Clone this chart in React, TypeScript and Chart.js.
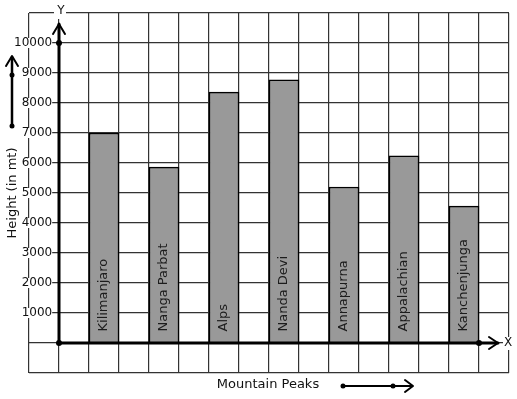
import React, { useEffect, useRef } from 'react';
import { Chart, registerables } from 'chart.js';

Chart.register(...registerables);

// ---- data ----
const peaks = ['Kilimanjaro', 'Nanga Parbat', 'Alps', 'Nanda Devi', 'Annapurna', 'Appalachian', 'Kanchenjunga'];
const heights = [7000, 5860, 8360, 8770, 5200, 6240, 4560];
const yTickLabels = [1000, 2000, 3000, 4000, 5000, 6000, 7000, 8000, 9000, 10000];
const yMin = -1000;
const yMax = 11000;
const yStep = 1000;
const xTitle = 'Mountain Peaks';
const yTitle = 'Height (in mt)';

// graph-paper slots: two empty cells, then each peak followed by an empty cell
const slotLabels: string[] = ['', '', ...peaks.flatMap((p) => [p, ''])];
const slotValues: (number | null)[] = [null, null, ...heights.flatMap((h) => [h, null])];

const FONT = 'DejaVu Sans';

function chevron(ctx: CanvasRenderingContext2D, pts: number[][]) {
  ctx.beginPath();
  ctx.moveTo(pts[0][0], pts[0][1]);
  for (let i = 1; i < pts.length; i++) ctx.lineTo(pts[i][0], pts[i][1]);
  ctx.stroke();
}
function dot(ctx: CanvasRenderingContext2D, x: number, y: number, r: number) {
  ctx.beginPath();
  ctx.arc(x, y, r, 0, Math.PI * 2);
  ctx.fill();
}

const decorPlugin = {
  id: 'decor',
  afterDraw(chart: any) {
    const ctx: CanvasRenderingContext2D = chart.ctx;
    const xs = chart.scales.x;
    const ys = chart.scales.y;
    const area = chart.chartArea;
    const y0 = ys.getPixelForValue(0);
    const x0 = xs.getPixelForValue(0.5);
    const yTop = ys.getPixelForValue(10000);
    const xDot = xs.getPixelForValue(slotLabels.length - 1.5);
    ctx.save();
    ctx.strokeStyle = '#000';
    ctx.fillStyle = '#000';
    ctx.lineCap = 'round';
    ctx.lineJoin = 'round';

    // bar labels
    const meta = chart.getDatasetMeta(0);
    ctx.font = `13px "${FONT}"`;
    ctx.fillStyle = '#1c1c1c';
    meta.data.forEach((bar: any, i: number) => {
      if (slotValues[i] == null) return;
      ctx.save();
      ctx.translate(bar.x, y0 - 11.5);
      ctx.rotate(-Math.PI / 2);
      ctx.textAlign = 'left';
      ctx.textBaseline = 'middle';
      ctx.fillText(slotLabels[i], 0, 0);
      ctx.restore();
    });
    ctx.fillStyle = '#000';

    // Y axis
    ctx.lineWidth = 3;
    ctx.beginPath();
    ctx.moveTo(x0, y0);
    ctx.lineTo(x0, area.top + 11);
    ctx.stroke();
    ctx.lineWidth = 2;
    chevron(ctx, [[x0 - 6, area.top + 21], [x0, area.top + 11], [x0 + 6, area.top + 21]]);
    dot(ctx, x0, yTop, 3);

    // X axis
    ctx.lineWidth = 3;
    ctx.beginPath();
    ctx.moveTo(x0, y0);
    ctx.lineTo(area.right - 11, y0);
    ctx.stroke();
    ctx.lineWidth = 2;
    chevron(ctx, [[area.right - 20, y0 - 6], [area.right - 11, y0], [area.right - 20, y0 + 6]]);
    dot(ctx, x0, y0, 3);
    dot(ctx, xDot, y0, 3);

    // axis letters with white backdrops
    ctx.font = `12px "${FONT}"`;
    ctx.textAlign = 'center';
    ctx.textBaseline = 'middle';
    ctx.fillStyle = '#fff';
    ctx.fillRect(x0 - 5, area.top - 7, 12, 13);
    ctx.fillRect(area.right - 6, y0 - 6, 12, 13);
    ctx.fillStyle = '#111';
    ctx.fillText('Y', x0 + 2, area.top - 2);
    ctx.fillText('X', area.right - 1, y0);

    // Y title + arrow
    ctx.font = `13px "${FONT}"`;
    ctx.save();
    ctx.translate(12.5, (area.top + area.bottom) / 2);
    ctx.rotate(-Math.PI / 2);
    ctx.fillText(yTitle, 0, 0);
    ctx.restore();
    ctx.fillStyle = '#000';
    ctx.lineWidth = 2.5;
    ctx.beginPath();
    ctx.moveTo(12, 126);
    ctx.lineTo(12, 57);
    ctx.stroke();
    ctx.lineWidth = 2;
    chevron(ctx, [[6, 66], [12, 56], [18, 66]]);
    dot(ctx, 12, 126, 2.5);
    dot(ctx, 12, 75, 2.5);

    // X title + arrow
    ctx.fillStyle = '#111';
    ctx.fillText(xTitle, (area.left + area.right) / 2 - 1, 385);
    ctx.fillStyle = '#000';
    ctx.lineWidth = 2;
    ctx.beginPath();
    ctx.moveTo(343, 386);
    ctx.lineTo(412, 386);
    ctx.stroke();
    chevron(ctx, [[405, 380], [413, 386], [405, 392]]);
    dot(ctx, 343, 386, 2.5);
    dot(ctx, 393, 386, 2.5);
    ctx.restore();
  },
};

export default function App() {
  const ref = useRef<HTMLCanvasElement | null>(null);
  useEffect(() => {
    if (!ref.current) return;
    Chart.defaults.font.family = FONT;
    const chart = new Chart(ref.current, {
      type: 'bar',
      data: {
        labels: slotLabels,
        datasets: [
          {
            data: slotValues as any,
            backgroundColor: '#999999',
            borderColor: '#000000',
            borderWidth: 1.5,
            borderSkipped: 'start',
            barPercentage: 1,
            categoryPercentage: 1,
          },
        ],
      },
      options: {
        responsive: false,
        animation: false,
        events: [],
        layout: { padding: { top: 13, right: 8, bottom: 26, left: 0 } },
        plugins: { legend: { display: false }, tooltip: { enabled: false }, title: { display: false } },
        scales: {
          x: {
            type: 'category',
            offset: true,
            grid: { offset: true, color: '#333', lineWidth: 1.2, drawTicks: false },
            border: { display: false },
            ticks: { display: false },
            afterFit: (s: any) => {
              s.height = 0;
            },
          },
          y: {
            type: 'linear',
            min: yMin,
            max: yMax,
            grid: { color: '#333', lineWidth: 1.2, drawTicks: false },
            border: { display: false },
            ticks: {
              stepSize: yStep,
              autoSkip: false,
              mirror: true,
              crossAlign: 'far',
              padding: -15,
              color: '#111',
              font: { family: FONT, size: 12, lineHeight: 1 },
              showLabelBackdrop: true,
              backdropColor: (c: any) =>
                c.tick && yTickLabels.includes(c.tick.value) ? '#ffffff' : 'rgba(0,0,0,0)',
              backdropPadding: { top: -1, bottom: -1, left: 1, right: 0 },
              callback: (v: any) => (yTickLabels.includes(Number(v)) ? String(v) : ''),
            },
            afterFit: (s: any) => {
              s.width = 29;
            },
          },
        },
      },
      plugins: [decorPlugin],
    });
    return () => chart.destroy();
  }, []);
  return (
    <div style={{ position: 'absolute', left: 0, top: 0, width: 517, height: 399, background: '#fff' }}>
      <canvas ref={ref} width={517} height={399} style={{ display: 'block' }} />
    </div>
  );
}
